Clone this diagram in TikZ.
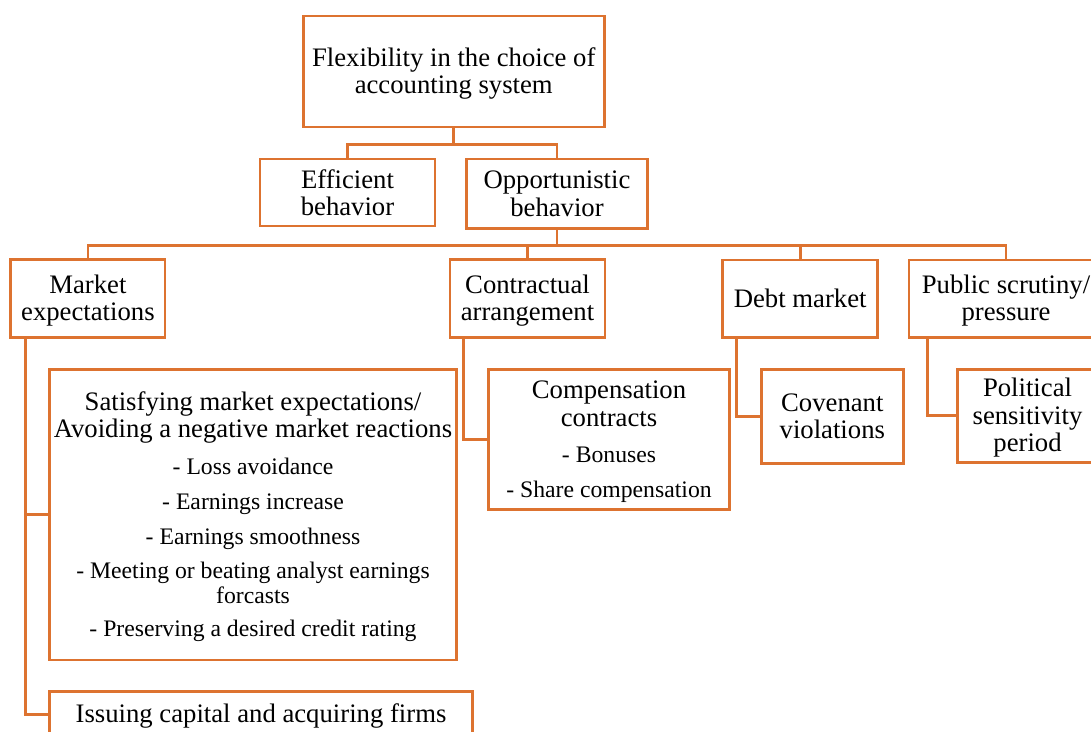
\documentclass[tikz,border=0pt]{standalone}
\usepackage{fontspec}
\setmainfont{Liberation Serif}
\usetikzlibrary{calc}
\definecolor{org}{RGB}{221,115,48}
\newcommand{\lgf}{\fontsize{26.7}{27.5}\selectfont}
\newcommand{\smf}{\fontsize{23.7}{25}\selectfont}
\newcommand{\tp}{\rule{0pt}{22.5pt}}
\begin{document}
\begin{tikzpicture}[x=1pt,y=-1pt,
  box/.style={draw=org, line width=2.8pt, inner sep=0pt, align=center, font=\lgf},
  link/.style={draw=org, line width=2.8pt}]
\useasboundingbox (0,0) rectangle (1091,731);
\clip (0,0) rectangle (1091,731);

% level 0
\node[box, minimum width=301, minimum height=111] (top) at (453.75,71.4)
  {\tp Flexibility in the choice of\\accounting system};
% level 1
\node[box, minimum width=175, minimum height=67] (eff) at (347.5,192.5)
  {Efficient\\behavior};
\node[box, minimum width=180.6, minimum height=69.3] (opp) at (557,193.6)
  {Opportunistic\\behavior};
% level 2
\node[box, minimum width=154.3, minimum height=77.3] (mkt) at (87.9,298.5)
  {\tp Market\\expectations};
\node[box, minimum width=155, minimum height=77.3] (con) at (527.5,298.5)
  {\tp Contractual\\arrangement};
\node[box, minimum width=154.7, minimum height=77.3] (debt) at (800.2,298.7)
  {Debt market};
\node[box, minimum width=194, minimum height=77.3] (pub) at (1006,298.7)
  {\tp Public scrutiny/\\pressure};
% level 3
\node[box, minimum width=407.4, minimum height=290.7] (sat) at (253,514.7)
  {\tp Satisfying market expectations/\\
   Avoiding a negative market reactions\\[9.5pt]
   \smf - Loss avoidance\\[7.2pt]
   \smf - Earnings increase\\[7.5pt]
   \smf - Earnings smoothness\\[6.8pt]
   \smf - Meeting or beating analyst earnings\\[-2.5pt]
   \smf forcasts\\[5.8pt]
   \smf - Preserving a desired credit rating};
\node[box, minimum width=423.4, minimum height=45.4] (iss) at (261,714.3)
  {\tp Issuing capital and acquiring firms};
\node[box, minimum width=240.8, minimum height=140] (comp) at (609,439.3)
  {\tp Compensation\\
   contracts\\[9.2pt]
   \smf - Bonuses\\[6.8pt]
   \smf - Share compensation};
\node[box, minimum width=141.8, minimum height=94] (cov) at (832.3,416.3)
  {Covenant\\violations};
\node[box, minimum width=140.4, minimum height=93] (pol) at (1027.5,415.7)
  {\tp Political\\sensitivity\\period};

% connectors
\path (top.south) ++(0,16) coordinate (j1);
\draw[link] (top.south) -- (j1);
\draw[link] (eff.north) |- (j1) -| (opp.north);

\path (opp.south) ++(0,15.7) coordinate (j2);
\draw[link] (opp.south) -- (j2);
\draw[link] (mkt.north) |- (j2) -| (pub.north);
\draw[link] (con.north) |- (j2);
\draw[link] (debt.north) |- (j2);

\coordinate (m0) at ($(mkt.south west)+(16.3,0)$);
\draw[link] (m0) |- (sat.west);
\draw[link] (m0) |- (iss.west);

\coordinate (c0) at ($(con.south west)+(14.5,0)$);
\draw[link] (c0) |- (comp.west);

\coordinate (d0) at ($(debt.south west)+(15.2,0)$);
\draw[link] (d0) |- (cov.west);

\coordinate (p0) at ($(pub.south west)+(20,0)$);
\draw[link] (p0) |- (pol.west);
\end{tikzpicture}
\end{document}
